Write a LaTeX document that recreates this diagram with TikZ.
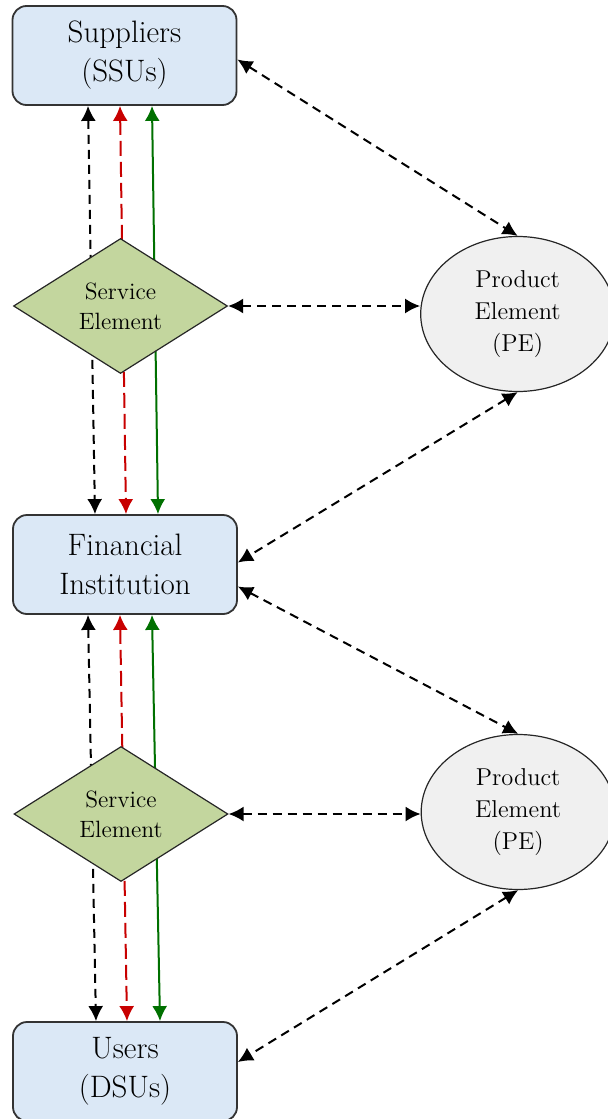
\documentclass[tikz,border=0pt]{standalone}
\usepackage{fontspec}
\usetikzlibrary{positioning,shapes.geometric,arrows.meta,backgrounds}
\definecolor{boxblue}{RGB}{219,232,246}
\definecolor{servicegreen}{RGB}{195,214,158}
\definecolor{productgray}{RGB}{240,240,240}
\definecolor{flowred}{RGB}{200,0,0}
\definecolor{flowgreen}{RGB}{0,112,0}

\begin{document}
\begin{tikzpicture}[box/.style={rectangle,rounded corners=7pt,draw=black!80,line width=0.9pt,fill=boxblue,minimum width=112pt,minimum height=49.5pt,inner sep=0pt,align=center,font=\rmfamily\fontsize{15.5}{19.5}\selectfont},
						service/.style={diamond,draw=black!85,line width=0.6pt,fill=servicegreen,minimum width=107pt,minimum height=67.5pt,inner sep=0pt,align=center,font=\rmfamily\fontsize{11.8}{15}\selectfont},
						product/.style={ellipse,draw=black!85,line width=0.6pt,fill=productgray,minimum width=97pt,minimum height=77.5pt,inner sep=0pt,align=center,font=\rmfamily\fontsize{12.2}{16}\selectfont},
						link/.style={{Latex[length=7.5pt,width=7.5pt]}-{Latex[length=7.5pt,width=7.5pt]},line width=1pt,dash pattern=on 4.5pt off 3pt},
						money/.style={link,flowred,dash pattern=on 7.5pt off 3pt},
						goods/.style={link,flowgreen,solid}]
		\useasboundingbox (0,0) rectangle (304pt,-559.5pt);
		\node[box] at (62.25pt,-27.75pt)									(sup)	{Suppliers\\(SSUs)};
		\node[service,node distance=66pt,below=of sup,xshift=-2pt]			(se1)	{Service\\Element};
		\node[box,node distance=70pt,below=of se1,xshift=2.25pt]			(fi)	{Financial\\Institution};
		\node[service,node distance=65.5pt,below=of fi,xshift=-2pt]			(se2)	{Service\\Element};
		\node[box,node distance=69.5pt,below=of se2,xshift=2pt]				(usr)	{Users\\(DSUs)};
		\node[product,node distance=96pt,right=of se1,yshift=-4pt]			(pe1)	{Product\\Element\\(PE)};
		\node[product,node distance=96pt,right=of se2,yshift=1pt]			(pe2)	{Product\\Element\\(PE)};

		\begin{scope}[on background layer]
		\draw[link]  ([xshift=-18.25pt]sup.south) -- ([xshift=-15pt]fi.north);
		\draw[money] ([xshift=-2.25pt]sup.south) -- ([xshift=0.5pt]fi.north);
		\draw[goods] ([xshift=13.75pt]sup.south) -- ([xshift=16.5pt]fi.north);
		\draw[link]  ([xshift=-18.5pt]fi.south) -- ([xshift=-14.5pt]usr.north);
		\draw[money] ([xshift=-2.5pt]fi.south) -- ([xshift=1pt]usr.north);
		\draw[goods] ([xshift=13.5pt]fi.south) -- ([xshift=17.5pt]usr.north);
		\end{scope}

		\draw[link] ([yshift=-2pt]sup.east) -- (pe1.north);
		\draw[link] (se1.east) -- (se1.east -| pe1.west);
		\draw[link] (pe1.south) -- ([yshift=1pt]fi.east);
		\draw[link] ([yshift=-11pt]fi.east) -- (pe2.north);
		\draw[link] (se2.east) -- (se2.east -| pe2.west);
		\draw[link] (pe2.south) -- ([yshift=4.75pt]usr.east);
	\end{tikzpicture}
\end{document}
